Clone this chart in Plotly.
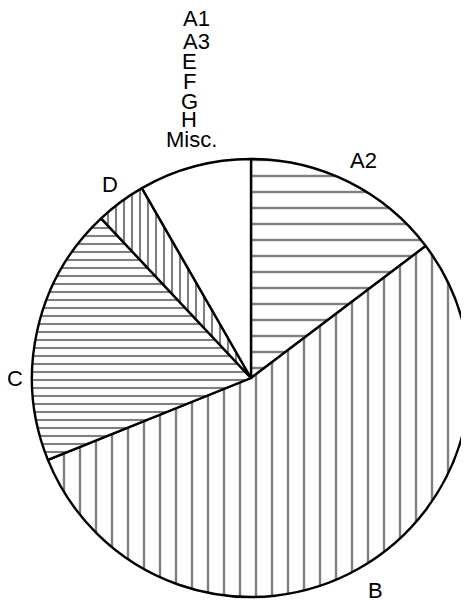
import plotly.graph_objects as go

# Data (percent shares; clockwise from 12 o'clock)
labels = ["A2", "B", "C", "D", "Misc."]
values = [14.7, 54.2, 19.1, 3.7, 8.3]
minor_labels = ["A1", "A3", "E", "F", "G", "H"]   # negligible categories, labelled only

# Styles
pattern_shapes = ["-", "|", "-", "|", ""]
pattern_sizes = [16, 16, 8, 8, 8]
pattern_solid = [0.15, 0.15, 0.26, 0.26, 0.2]

W, H = 469, 600
OFF = 8  # page body margin

def px(x, y):
    return (x - OFF) / W, 1 - (y - OFF) / H

fig = go.Figure(go.Pie(
    labels=labels,
    values=values,
    sort=False,
    direction="clockwise",
    rotation=0,
    textinfo="none",
    hoverinfo="label+value",
    showlegend=False,
    marker=dict(
        colors=["white"] * len(labels),
        line=dict(color="black", width=2.4),
        pattern=dict(
            shape=pattern_shapes,
            size=pattern_sizes,
            solidity=pattern_solid,
            fgcolor="black",
            bgcolor="white",
            fillmode="overlay",
        ),
    ),
    domain=dict(x=[(32 - OFF) / W, (470 - OFF) / W], y=[1 - (598 - OFF) / H, 1 - (158 - OFF) / H]),
))

# label positions (pixels in the reference frame)
main_pos = {"A2": (363, 160), "B": (375, 590), "C": (15, 378), "D": (110, 184), "Misc.": (191, 140)}
minor_pos = [(196, 19), (196, 41), (189, 62), (189, 82), (189, 101), (189, 119)]

font = dict(family="Liberation Sans, Arial, sans-serif", size=22, color="black")
ann = []
for lab in labels:
    x, y = px(*main_pos[lab])
    ann.append(dict(x=x, y=y, xref="paper", yref="paper", text=lab,
                    showarrow=False, xanchor="center", yanchor="middle", font=font))
for lab, p in zip(minor_labels, minor_pos):
    x, y = px(*p)
    ann.append(dict(x=x, y=y, xref="paper", yref="paper", text=lab,
                    showarrow=False, xanchor="center", yanchor="middle", font=font))

fig.update_layout(
    width=W, height=H,
    margin=dict(l=0, r=0, t=0, b=0),
    paper_bgcolor="white",
    plot_bgcolor="white",
    annotations=ann,
)

fig.write_html("out.html")
